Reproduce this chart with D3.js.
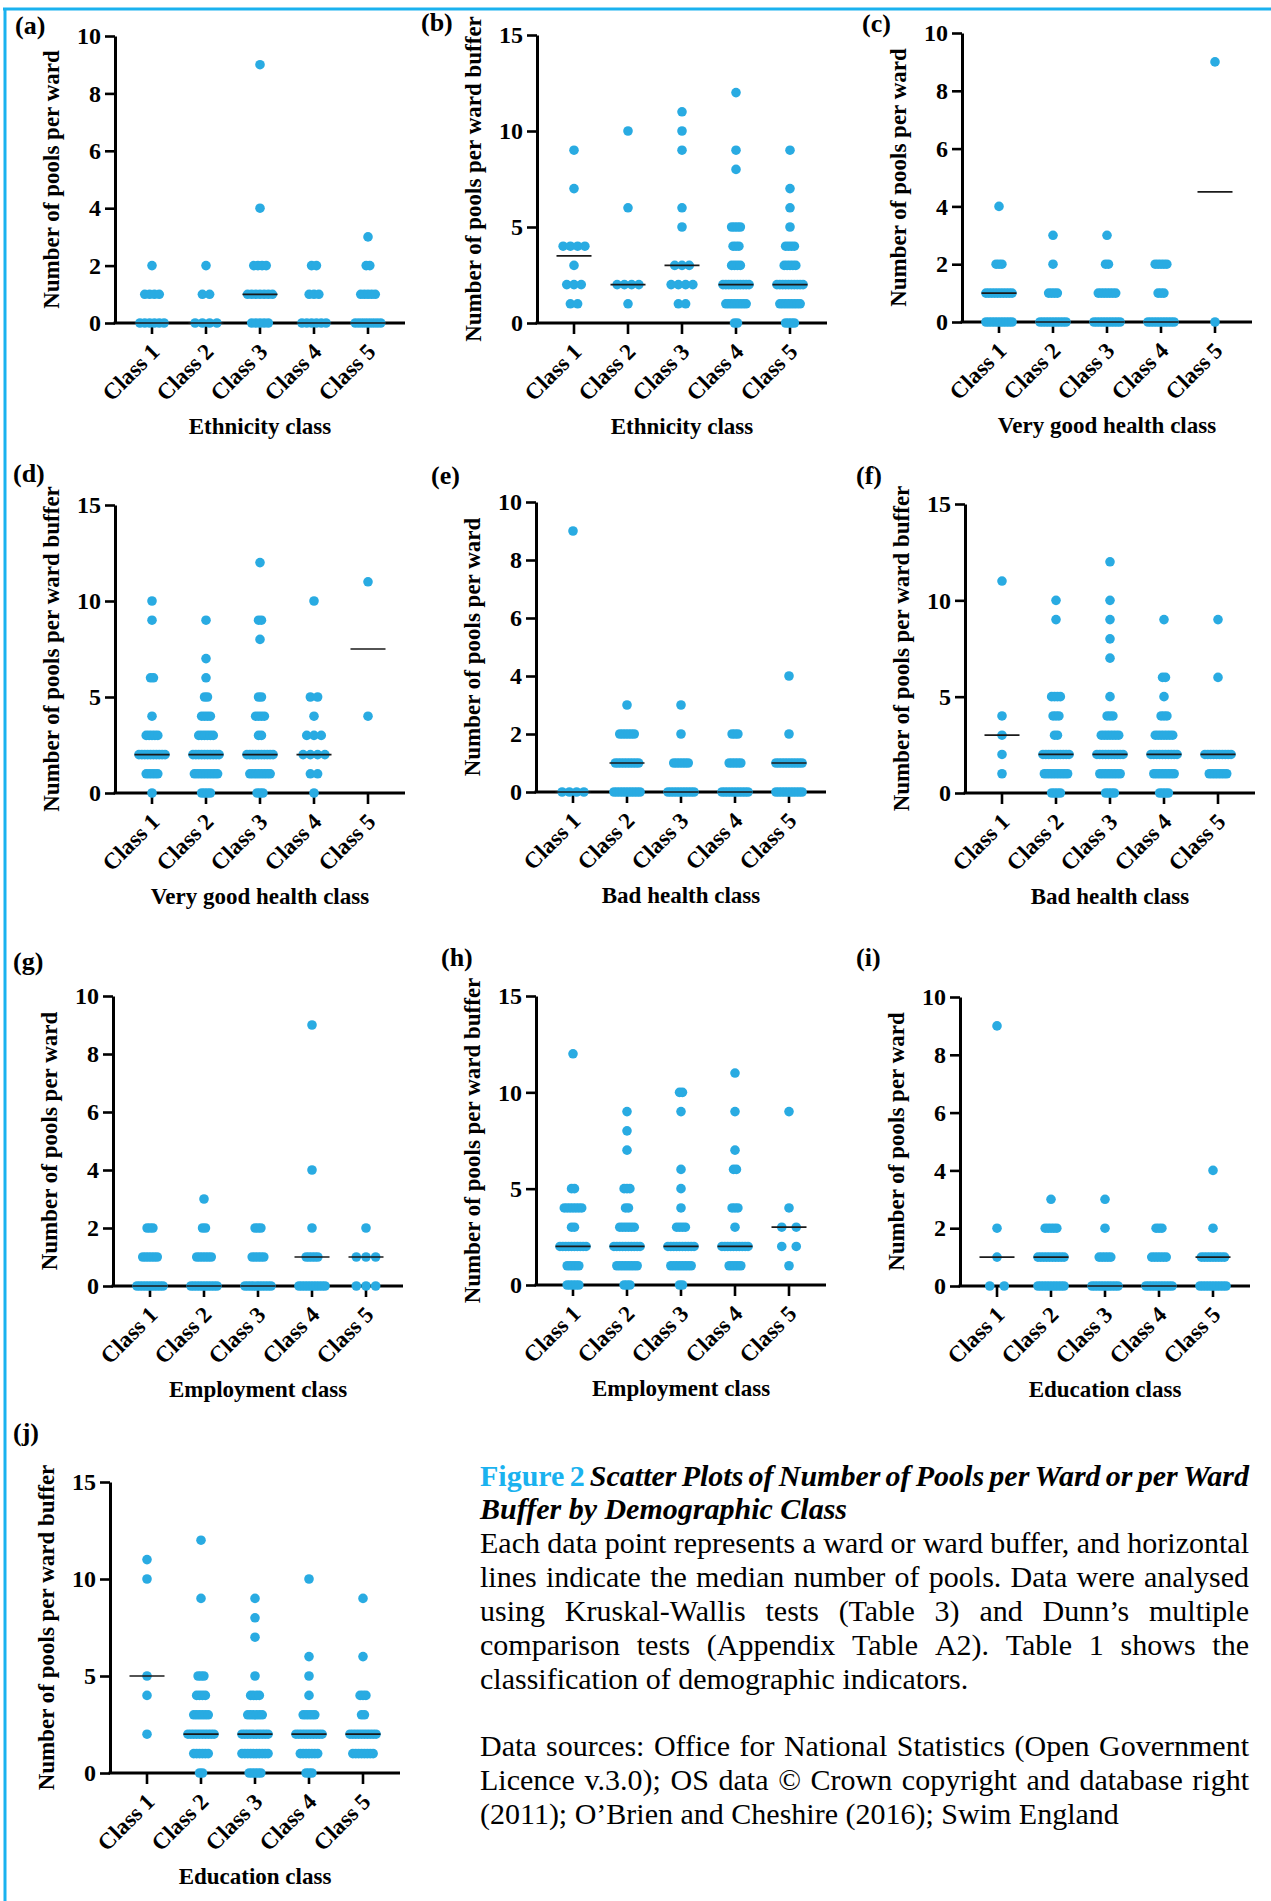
<!DOCTYPE html>
<html>
<head>
<meta charset="utf-8">
<script src="https://cdn.jsdelivr.net/npm/d3@7"></script>
<style>
body{margin:0;background:#fff}
svg{display:block}
text{font-family:"Liberation Serif","Times New Roman",serif}
</style>
</head>
<body>
<svg id="chart" width="1271" height="1901"></svg>
<script>
// each class: number of wards (or buffers) having 0,1,2,... pools (index = pools)
var classes = ["Class 1","Class 2","Class 3","Class 4","Class 5"];

var countsA = [[6,4,1],[4,2,1],[5,7,4,0,1,0,0,0,0,1],[6,3,2],[8,5,2,1]];
var countsB = [[0,2,3,1,4,0,0,1,0,1],[0,1,4,0,0,0,1,0,0,0,1],[0,2,4,3,0,1,1,0,0,1,1,1],
	[2,8,10,4,3,4,0,0,1,1,0,0,1],[4,8,10,5,4,1,1,1,0,1]];
var countsC = [[10,10,3,0,1],[10,4,1,1],[10,7,2,1],[10,3,5],[1,0,0,0,0,0,0,0,0,1]];
var countsD = [[1,5,10,5,1,0,2,0,0,1,1],[4,9,10,6,4,2,1,1,0,1],[3,8,10,2,4,2,0,0,1,2,0,0,1],
	[1,2,4,3,1,2,0,0,0,0,1],[0,0,0,0,1,0,0,0,0,0,0,1]];
var countsE = [[4,0,0,0,0,0,0,0,0,1],[10,9,6,1],[10,6,1,1],[10,5,3],[10,10,1,0,1]];
var countsF = [[0,1,1,1,1,0,0,0,0,0,0,1],[4,9,10,2,3,4,0,0,0,1,1],[4,8,10,7,3,1,0,1,1,1,1,0,1],
	[4,8,10,7,3,1,2,0,0,1],[0,7,10,0,0,0,1,0,0,1]];
var countsG = [[10,6,3],[10,6,2,1],[10,5,3],[10,5,1,0,1,0,0,0,0,1],[3,3,1]];
var countsH = [[5,5,10,2,7,2,0,0,0,0,0,0,1],[3,8,10,6,2,3,0,1,1,1],[2,8,10,4,1,1,1,0,0,1,2],
	[0,5,10,1,3,0,2,1,0,1,0,1],[0,1,2,2,1,0,0,0,0,1]];
var countsI = [[2,1,1,0,0,0,0,0,0,1],[10,10,5,1],[10,5,1,1],[10,6,3],[10,9,1,0,1]];
var countsJ = [[0,0,1,0,1,1,0,0,0,0,1,1],[2,6,10,6,4,3,0,0,0,1,0,0,1],[5,10,10,6,4,1,0,1,1,1],
	[3,7,10,5,1,1,1,0,0,0,1],[0,8,10,2,3,0,1,0,0,1]];

// medians as drawn (horizontal lines)
var mediansA = [0,0,1,0,0];
var mediansB = [3.5,2,3,2,2];
var mediansC = [1,0,0,0,4.5];
var mediansD = [2,2,2,2,7.5];
var mediansE = [0,1,0,0,1];
var mediansF = [3,2,2,2,2];
var mediansG = [0,0,0,1,1];
var mediansH = [2,2,2,2,3];
var mediansI = [1,1,0,0,1];
var mediansJ = [5,2,2,2,2];

var ticks10 = [0,2,4,6,8,10];
var ticks15 = [0,5,10,15];

var wardTitle = "Number of pools per ward";
var bufferTitle = "Number of pools per ward buffer";

var figLabel = "Figure 2";
var captionTitle = ["Scatter Plots of Number of Pools per Ward or per Ward","Buffer by Demographic Class"];
var captionBody = ["Each data point represents a ward or ward buffer, and horizontal",
	"lines indicate the median number of pools. Data were analysed",
	"using Kruskal-Wallis tests (Table 3) and Dunn\u2019s multiple",
	"comparison tests (Appendix Table A2). Table 1 shows the",
	"classification of demographic indicators."];
var captionSources = ["Data sources: Office for National Statistics (Open Government",
	"Licence v.3.0); OS data \u00a9 Crown copyright and database right",
	"(2011); O\u2019Brien and Cheshire (2016); Swim England"];

var blue = "#29abe2", frame = "#1ab2ef";

var panels = [
	{lab:"(a)",counts:countsA,med:mediansA,yMax:10,ticks:ticks10,yTitle:wardTitle,xTitle:"Ethnicity class",x0:115,yTop:36,yBot:323,lx:15,ly:34},
	{lab:"(b)",counts:countsB,med:mediansB,yMax:15,ticks:ticks15,yTitle:bufferTitle,xTitle:"Ethnicity class",x0:537,yTop:35,yBot:323,lx:421,ly:31},
	{lab:"(c)",counts:countsC,med:mediansC,yMax:10,ticks:ticks10,yTitle:wardTitle,xTitle:"Very good health class",x0:962,yTop:33,yBot:322,lx:862,ly:32},
	{lab:"(d)",counts:countsD,med:mediansD,yMax:15,ticks:ticks15,yTitle:bufferTitle,xTitle:"Very good health class",x0:115,yTop:505,yBot:793,lx:13,ly:482},
	{lab:"(e)",counts:countsE,med:mediansE,yMax:10,ticks:ticks10,yTitle:wardTitle,xTitle:"Bad health class",x0:536,yTop:502,yBot:792,lx:431,ly:484},
	{lab:"(f)",counts:countsF,med:mediansF,yMax:15,ticks:ticks15,yTitle:bufferTitle,xTitle:"Bad health class",x0:965,yTop:504,yBot:793,lx:856,ly:484},
	{lab:"(g)",counts:countsG,med:mediansG,yMax:10,ticks:ticks10,yTitle:wardTitle,xTitle:"Employment class",x0:113,yTop:996,yBot:1286,lx:13,ly:970},
	{lab:"(h)",counts:countsH,med:mediansH,yMax:15,ticks:ticks15,yTitle:bufferTitle,xTitle:"Employment class",x0:536,yTop:996,yBot:1285,lx:441,ly:966},
	{lab:"(i)",counts:countsI,med:mediansI,yMax:10,ticks:ticks10,yTitle:wardTitle,xTitle:"Education class",x0:960,yTop:997,yBot:1286,lx:856,ly:966},
	{lab:"(j)",counts:countsJ,med:mediansJ,yMax:15,ticks:ticks15,yTitle:bufferTitle,xTitle:"Education class",x0:110,yTop:1482,yBot:1773,lx:13,ly:1441}
];

var svg = d3.select("#chart");

// frame
svg.append("line").attr("x1",3).attr("x2",1271).attr("y1",9).attr("y2",9).attr("stroke",frame).attr("stroke-width",3);
svg.append("line").attr("x1",5).attr("x2",5).attr("y1",8).attr("y2",1901).attr("stroke",frame).attr("stroke-width",3);

function drawPanel(p){
	var g = svg.append("g").attr("transform","translate("+p.x0+",0)");
	var x = d3.scaleBand().domain(classes).range([10,280]);
	var y = d3.scaleLinear().domain([0,p.yMax]).range([p.yBot,p.yTop]);

	var ya = g.append("g").call(d3.axisLeft(y).tickValues(p.ticks).tickSize(10).tickSizeOuter(0).tickPadding(4));
	ya.select(".domain").attr("stroke","#000").attr("stroke-width",3);
	ya.selectAll(".tick line").attr("stroke","#000").attr("stroke-width",2.6);
	ya.selectAll(".tick text").attr("font-size",24).attr("font-weight","bold").attr("fill","#000")
		.attr("font-family","'Liberation Serif',serif");

	var xa = g.append("g").attr("transform","translate(0,"+p.yBot+")")
		.call(d3.axisBottom(x).tickSize(11).tickSizeOuter(0));
	xa.select(".domain").remove();
	xa.append("line").attr("x1",-1.5).attr("x2",290).attr("stroke","#000").attr("stroke-width",3);
	xa.selectAll(".tick line").attr("stroke","#000").attr("stroke-width",2.6);
	xa.selectAll(".tick text").attr("font-size",23).attr("font-weight","bold").attr("fill","#000")
		.attr("font-family","'Liberation Serif',serif")
		.attr("x",0).attr("y",0).attr("dy",null).attr("text-anchor","end")
		.attr("transform","translate(9,30) rotate(-45)");

	// spread the dots of each value side by side, Prism style
	var pts = [];
	p.counts.forEach(function(c,i){
		var M = d3.max(c), s = M > 1 ? 29 / M : 0;
		var cx = x(classes[i]) + x.bandwidth()/2;
		c.forEach(function(k,v){
			for(var j=0;j<k;j++) pts.push({x:cx+(j-(k-1)/2)*s, y:y(v)});
		});
	});
	g.append("g").selectAll("circle").data(pts).enter().append("circle")
		.attr("cx",function(d){return d.x;}).attr("cy",function(d){return d.y;})
		.attr("r",4.8).attr("fill",blue);

	g.append("g").selectAll("line").data(p.med).enter().append("line")
		.attr("x1",function(d,i){return x(classes[i])+x.bandwidth()/2-17.5;})
		.attr("x2",function(d,i){return x(classes[i])+x.bandwidth()/2+17.5;})
		.attr("y1",function(d){return y(d);}).attr("y2",function(d){return y(d);})
		.attr("stroke","#1a1a1a").attr("stroke-width",1.7);

	g.append("text").attr("transform","translate(-56,"+((p.yTop+p.yBot)/2)+") rotate(-90)")
		.attr("text-anchor","middle").attr("font-size",23).attr("font-weight","bold").text(p.yTitle);
	g.append("text").attr("x",145).attr("y",p.yBot+111).attr("text-anchor","middle")
		.attr("font-size",23).attr("font-weight","bold").text(p.xTitle);
	svg.append("text").attr("x",p.lx).attr("y",p.ly).attr("font-size",26).attr("font-weight","bold").text(p.lab);
}

panels.forEach(drawPanel);

// caption, justified word by word
var capLeft = 480, capRight = 1249, capSize = 30;
function words(str,style){ return str.split(" ").map(function(w){return {w:w,style:style};}); }
var capLines = [
	{ws:words(figLabel,"fig").concat(words(captionTitle[0],"title")),y:1486,just:true},
	{ws:words(captionTitle[1],"title"),y:1519,just:false}
];
captionBody.forEach(function(l,i){ capLines.push({ws:words(l,"body"),y:1553+i*34,just:i<captionBody.length-1}); });
captionSources.forEach(function(l,i){ capLines.push({ws:words(l,"body"),y:1756+i*34,just:i<captionSources.length-1}); });

var cap = svg.append("g");
capLines.forEach(function(line){
	var nodes = line.ws.map(function(o){
		var t = cap.append("text").attr("y",line.y).attr("font-size",capSize).text(o.w);
		if(o.style==="fig") t.attr("font-weight","bold").attr("fill",frame);
		else if(o.style==="title") t.attr("font-weight","bold").attr("font-style","italic").attr("fill","#000");
		else t.attr("fill","#000");
		return t;
	});
	var widths = nodes.map(function(t){return t.node().getComputedTextLength();});
	var sum = d3.sum(widths), gap = capSize*0.25;
	if(line.just && nodes.length>1) gap = Math.max(3,(capRight-capLeft-sum)/(nodes.length-1));
	var cx = capLeft;
	nodes.forEach(function(t,i){ t.attr("x",cx); cx += widths[i]+gap; });
});
</script>
</body>
</html>
